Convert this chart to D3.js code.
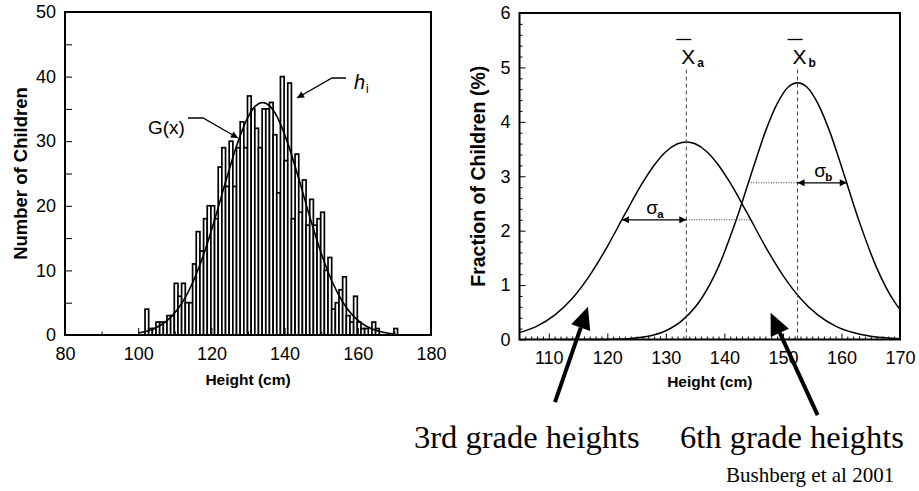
<!DOCTYPE html>
<html>
<head>
<meta charset="utf-8">
<script src="https://cdn.jsdelivr.net/npm/d3@7/dist/d3.min.js"></script>
<style>
  body { margin: 0; background: #fff; }
  svg { font-family: "Liberation Sans", Arial, sans-serif; }
  .tick line { stroke: #000; }
</style>
</head>
<body>
<svg id="chart" width="919" height="491"></svg>
<script>
// ---- left panel: histogram of heights, 1 cm bins starting at 100 cm ----
const binFirst = 100;
const binCounts = [
  0, 0, 4, 1, 1, 2, 2, 2, 3, 3,           // 100-109
  8, 6, 8, 5, 5, 11, 16, 13, 18, 20,      // 110-119
  20, 18, 26, 29, 23, 30, 23, 29, 33, 29, // 120-129
  37, 35, 32, 29, 35, 35, 36, 31, 22, 40, // 130-139
  27, 39, 18, 28, 19, 24, 17, 21, 17, 18, // 140-149
  19, 10, 12, 4, 5, 7, 9, 3, 2, 6,        // 150-159
  2, 1, 1, 0, 2, 1, 0, 0, 0, 0,           // 160-169
  1, 0                                    // 170-171
];
// fitted curve G(x)
const gX = [100, 103, 106, 109, 112, 115, 118, 121, 124, 127, 130, 132, 134,
            136, 138, 141, 144, 147, 150, 153, 156, 159, 162, 165, 168, 170];
const gY = [0.32, 0.71, 1.47, 2.81, 4.99, 8.25, 12.66, 18.06, 23.94, 29.47, 33.73, 35.42, 36,
            35.42, 33.73, 29.47, 23.94, 18.06, 12.66, 8.25, 4.99, 2.81, 1.47, 0.71, 0.32, 0.18];
const leftXTicks = [80, 100, 120, 140, 160, 180];
const leftXMinor = [90, 110, 130, 150, 170];
const leftYTicks = [0, 10, 20, 30, 40, 50];
const leftYMinor = [5, 15, 25, 35, 45];

// ---- right panel: two grade distributions ----
const aX = [105, 108, 111, 114, 117, 120, 123, 126, 128, 130, 132, 133.5, 135, 137, 139,
            141, 144, 147, 150, 153, 156, 159, 162, 165, 168, 170];
const aY = [0.127, 0.247, 0.448, 0.754, 1.179, 1.709, 2.302, 2.877, 3.203, 3.451, 3.596, 3.63, 3.596, 3.451, 3.203,
            2.877, 2.302, 1.709, 1.179, 0.754, 0.448, 0.247, 0.127, 0.06, 0.027, 0.015];
const bX = [112, 118, 121, 124, 127, 130, 133, 136, 139, 142, 145, 147, 149, 151, 152.5,
            154, 156, 158, 160, 163, 166, 169, 170];
const bY = [0, 0.002, 0.006, 0.02, 0.06, 0.16, 0.37, 0.74, 1.34, 2.19, 3.18, 3.82, 4.33, 4.65, 4.72,
            4.65, 4.33, 3.82, 3.18, 2.18, 1.32, 0.70, 0.55];
const means = [133.5, 152.5];
const meanNames = ["a", "b"];
const sigmaSpan = [[122.5, 133.5, 144.5], [144.1, 152.5, 160.9]];  // left, mean, right
const sigmaLevel = [2.2, 2.88];
const rightXTicks = [110, 120, 130, 140, 150, 160, 170];
const rightYTicks = [0, 1, 2, 3, 4, 5, 6];

const svg = d3.select("#chart");

const xL = d3.scaleLinear().domain([80, 180]).range([65, 431]);
const yL = d3.scaleLinear().domain([0, 50]).range([335, 12]);
const xR = d3.scaleLinear().domain([105, 170]).range([519.5, 900]);
const yR = d3.scaleLinear().domain([0, 6]).range([339.5, 13]);

const defs = svg.append("defs");
defs.append("marker").attr("id", "head")
  .attr("viewBox", "0 0 10 10").attr("refX", 10).attr("refY", 5)
  .attr("markerWidth", 9).attr("markerHeight", 7).attr("orient", "auto-start-reverse")
  .attr("markerUnits", "userSpaceOnUse")
  .append("path").attr("d", "M0,0 L10,5 L0,10 z").attr("fill", "#000");

function drawAxes(g, x, y, o) {
  const h = y.range()[0];
  const w = x.range()[0];
  g.append("g").attr("transform", `translate(0,${h})`)
    .call(d3.axisBottom(x).tickValues(o.xMinor).tickSize(-o.minorLen).tickFormat(""))
    .call(s => s.select(".domain").remove());
  g.append("g").attr("transform", `translate(0,${h})`)
    .call(d3.axisBottom(x).tickValues(o.xMajor).tickSize(-o.majorLen).tickPadding(12).tickFormat(d3.format("d")))
    .call(s => s.select(".domain").remove())
    .call(s => s.selectAll("text").attr("font-size", 18).attr("font-family", "Liberation Sans").attr("fill", "#000"));
  g.append("g").attr("transform", `translate(${w},0)`)
    .call(d3.axisLeft(y).tickValues(o.yMinor).tickSize(-o.yMinorLen).tickFormat(""))
    .call(s => s.select(".domain").remove());
  g.append("g").attr("transform", `translate(${w},0)`)
    .call(d3.axisLeft(y).tickValues(o.yMajor).tickSize(-o.majorLen).tickPadding(9).tickFormat(d3.format("d")))
    .call(s => s.select(".domain").remove())
    .call(s => s.selectAll("text").attr("font-size", 18).attr("font-family", "Liberation Sans").attr("fill", "#000"));
  g.append("rect")
    .attr("x", x.range()[0]).attr("y", y.range()[1])
    .attr("width", x.range()[1] - x.range()[0]).attr("height", y.range()[0] - y.range()[1])
    .attr("fill", "none").attr("stroke", "#000").attr("stroke-width", 2);
  g.append("text").attr("x", (x.range()[0] + x.range()[1]) / 2).attr("y", h + o.xLabelDy)
    .attr("text-anchor", "middle").attr("font-weight", "bold").attr("font-size", 15.5)
    .text(o.xLabel);
  g.append("text")
    .attr("transform", `translate(${o.yLabelX},${(y.range()[0] + y.range()[1]) / 2}) rotate(-90)`)
    .attr("text-anchor", "middle").attr("font-weight", "bold").attr("font-size", o.yLabelSize)
    .text(o.yLabel);
}

// ---------- left panel ----------
const left = svg.append("g");
const bins = binCounts.map((n, i) => ({x0: binFirst + i, n: n})).filter(d => d.n > 0);
left.append("g").selectAll("rect")
  .data(bins)
  .join("rect")
  .attr("x", d => xL(d.x0) - 0.5)
  .attr("width", xL(1) - xL(0))
  .attr("y", d => yL(d.n))
  .attr("height", d => yL(0) - yL(d.n))
  .attr("fill", "#fff")
  .attr("stroke", "#000")
  .attr("stroke-width", 1.7);

left.append("path")
  .datum(gX.map((v, i) => [v, gY[i]]))
  .attr("d", d3.line().x(d => xL(d[0])).y(d => yL(d[1])).curve(d3.curveMonotoneX))
  .attr("fill", "none").attr("stroke", "#000").attr("stroke-width", 1.6);

drawAxes(left, xL, yL, {
  xMajor: leftXTicks, xMinor: leftXMinor, yMajor: leftYTicks, yMinor: leftYMinor,
  majorLen: 7, minorLen: 3.5, yMinorLen: 7,
  xLabel: "Height (cm)", xLabelDy: 50, yLabel: "Number of Children", yLabelX: 27, yLabelSize: 18.5
});

// G(x) and h_i callouts
left.append("text").attr("x", 148).attr("y", 134).attr("font-size", 19).text("G(x)");
left.append("path").attr("d", "M188,118 L203,118 L238,138")
  .attr("fill", "none").attr("stroke", "#000").attr("stroke-width", 1.3).attr("marker-end", "url(#head)");
left.append("text").attr("x", 354).attr("y", 89).attr("font-size", 20).attr("font-style", "italic").text("h");
left.append("text").attr("x", 366).attr("y", 93).attr("font-size", 12).text("i");
left.append("path").attr("d", "M346,78 L332,78 L297,98")
  .attr("fill", "none").attr("stroke", "#000").attr("stroke-width", 1.3).attr("marker-end", "url(#head)");

// ---------- right panel ----------
const right = svg.append("g");
const line = d3.line().x(d => xR(d[0])).y(d => yR(d[1])).curve(d3.curveMonotoneX);
right.append("path").datum(aX.map((v, i) => [v, aY[i]])).attr("d", line)
  .attr("fill", "none").attr("stroke", "#000").attr("stroke-width", 1.5);
right.append("path").datum(bX.map((v, i) => [v, bY[i]])).attr("d", line)
  .attr("fill", "none").attr("stroke", "#000").attr("stroke-width", 1.5);

means.forEach((m, i) => {
  right.append("line")
    .attr("x1", xR(m)).attr("x2", xR(m)).attr("y1", yR(0)).attr("y2", yR(4.98))
    .attr("stroke", "#444").attr("stroke-width", 1).attr("stroke-dasharray", "4,3");
  const cx = xR(m);
  right.append("line").attr("x1", cx - 10).attr("x2", cx + 5).attr("y1", 39.5).attr("y2", 39.5)
    .attr("stroke", "#000").attr("stroke-width", 1.3);
  right.append("text").attr("x", cx - 5).attr("y", 64).attr("font-size", 21).text("X");
  right.append("text").attr("x", cx + 11).attr("y", 67).attr("font-size", 12).attr("font-weight", "bold")
    .text(meanNames[i]);

  const s = sigmaSpan[i], yy = yR(sigmaLevel[i]);
  const arrowFrom = i === 0 ? s[0] : s[1];
  const arrowTo = i === 0 ? s[1] : s[2];
  const dotFrom = i === 0 ? s[1] : s[0];
  const dotTo = i === 0 ? s[2] : s[1];
  right.append("line").attr("x1", xR(dotFrom)).attr("x2", xR(dotTo)).attr("y1", yy).attr("y2", yy)
    .attr("stroke", "#333").attr("stroke-width", 1).attr("stroke-dasharray", "1,1.5");
  right.append("line").attr("x1", xR(arrowFrom)).attr("x2", xR(arrowTo)).attr("y1", yy).attr("y2", yy)
    .attr("stroke", "#000").attr("stroke-width", 1.3)
    .attr("marker-start", "url(#head)").attr("marker-end", "url(#head)");
  const tx = (xR(arrowFrom) + xR(arrowTo)) / 2 - 8;
  right.append("text").attr("x", tx).attr("y", yy - 6).attr("font-size", 19).text("σ");
  right.append("text").attr("x", tx + 11).attr("y", yy - 2).attr("font-size", 11.5).attr("font-weight", "bold")
    .text(meanNames[i]);
});

drawAxes(right, xR, yR, {
  xMajor: rightXTicks, xMinor: d3.range(106, 170).filter(v => v % 10 !== 0),
  yMajor: rightYTicks, yMinor: d3.range(0.2, 6, 0.2).filter(v => Math.abs(v - Math.round(v)) > 0.01),
  majorLen: 6, minorLen: 3, yMinorLen: 3,
  xLabel: "Height (cm)", xLabelDy: 47, yLabel: "Fraction of Children (%)", yLabelX: 485, yLabelSize: 19.5
});

// big pointer arrows to each curve (data units of the right panel)
const pointers = [
  {from: [111.06, -1.15], to: [116.69, 0.6]},
  {from: [155.93, -1.39], to: [147.9, 0.49]}
];
pointers.forEach(p => {
  const x1 = xR(p.from[0]), y1 = yR(p.from[1]), x2 = xR(p.to[0]), y2 = yR(p.to[1]);
  const a = Math.atan2(y2 - y1, x2 - x1), L = 22, W = 10;
  const bx = x2 - L * Math.cos(a), by = y2 - L * Math.sin(a);
  svg.append("line").attr("x1", x1).attr("y1", y1).attr("x2", bx).attr("y2", by)
    .attr("stroke", "#000").attr("stroke-width", 4);
  svg.append("path")
    .attr("d", `M${x2},${y2} L${bx + W * Math.sin(a)},${by - W * Math.cos(a)} L${bx - W * Math.sin(a)},${by + W * Math.cos(a)} Z`)
    .attr("fill", "#000");
});

svg.append("text").attr("x", 414).attr("y", 448).attr("font-family", "Liberation Serif")
  .attr("font-size", 32.5).text("3rd grade heights");
svg.append("text").attr("x", 680).attr("y", 448).attr("font-family", "Liberation Serif")
  .attr("font-size", 32.5).text("6th grade heights");
svg.append("text").attr("x", 726).attr("y", 482).attr("font-family", "Liberation Serif")
  .attr("font-size", 21).text("Bushberg et al 2001");
</script>
</body>
</html>
